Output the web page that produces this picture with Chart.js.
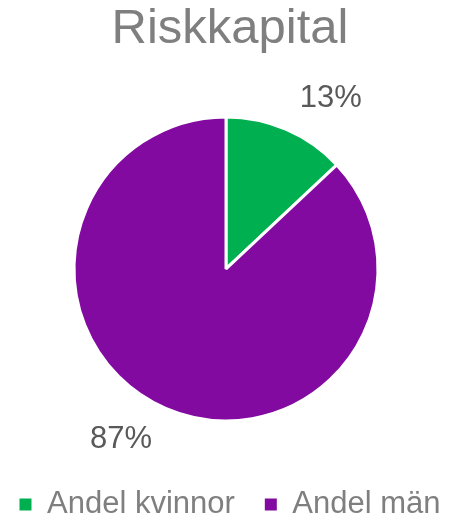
<!DOCTYPE html>
<html><head><meta charset="utf-8">
<script src="https://cdn.jsdelivr.net/npm/chart.js@4"></script>
<style>html,body{margin:0;padding:0;background:#fff}#w{width:452px;height:519px}</style>
</head><body><div id="w"><canvas id="c"></canvas></div>
<script>
const titleText = "Riskkapital";
const categories = ["Andel kvinnor", "Andel män"];
const values = [13, 87];
const valueLabels = ["13%", "87%"];
const colors = ["#00B050", "#820AA0"];

const labelPlugin = {
  id: 'outLabels',
  afterDatasetsDraw(chart) {
    const ctx = chart.ctx;
    const meta = chart.getDatasetMeta(0);
    ctx.save();
    ctx.font = '31px "Liberation Sans", Arial, sans-serif';
    ctx.fillStyle = '#595959';
    ctx.textBaseline = 'middle';
    meta.data.forEach((arc, i) => {
      const p = arc.getProps(['x','y','startAngle','endAngle','outerRadius'], true);
      const a = (p.startAngle + p.endAngle) / 2;
      const d = p.outerRadius + 34;
      const x = p.x + Math.cos(a) * d;
      const y = p.y + Math.sin(a) * d;
      ctx.textAlign = Math.cos(a) >= 0 ? 'left' : 'right';
      ctx.fillText(valueLabels[i], x, y);
    });
    ctx.restore();
  }
};

new Chart(document.getElementById('c'), {
  type: 'pie',
  data: {
    labels: categories,
    datasets: [{
      data: values,
      backgroundColor: colors,
      borderColor: '#ffffff',
      borderWidth: 3,
      radius: 152
    }]
  },
  options: {
    responsive: true,
    maintainAspectRatio: false,
    animation: false,
    layout: { padding: { left: -23, right: -31, top: 0, bottom: -11 } },
    plugins: {
      title: {
        display: true,
        text: titleText,
        color: '#7F7F7F',
        font: { family: '"Liberation Sans", Arial, sans-serif', size: 49, weight: 'normal' },
        padding: { top: 0, bottom: 20 }
      },
      legend: {
        position: 'bottom',
        labels: {
          color: '#7F7F7F',
          font: { family: '"Liberation Sans", Arial, sans-serif', size: 31 },
          boxWidth: 12,
          boxHeight: 12,
          padding: 30,
          generateLabels(chart) {
            return chart.data.labels.map((l, i) => ({
              text: l,
              fillStyle: chart.data.datasets[0].backgroundColor[i],
              strokeStyle: chart.data.datasets[0].backgroundColor[i],
              lineWidth: 0,
              fontColor: '#7F7F7F',
              hidden: false,
              index: i
            }));
          }
        }
      },
      tooltip: { enabled: false }
    }
  },
  plugins: [labelPlugin]
});
</script></body></html>
